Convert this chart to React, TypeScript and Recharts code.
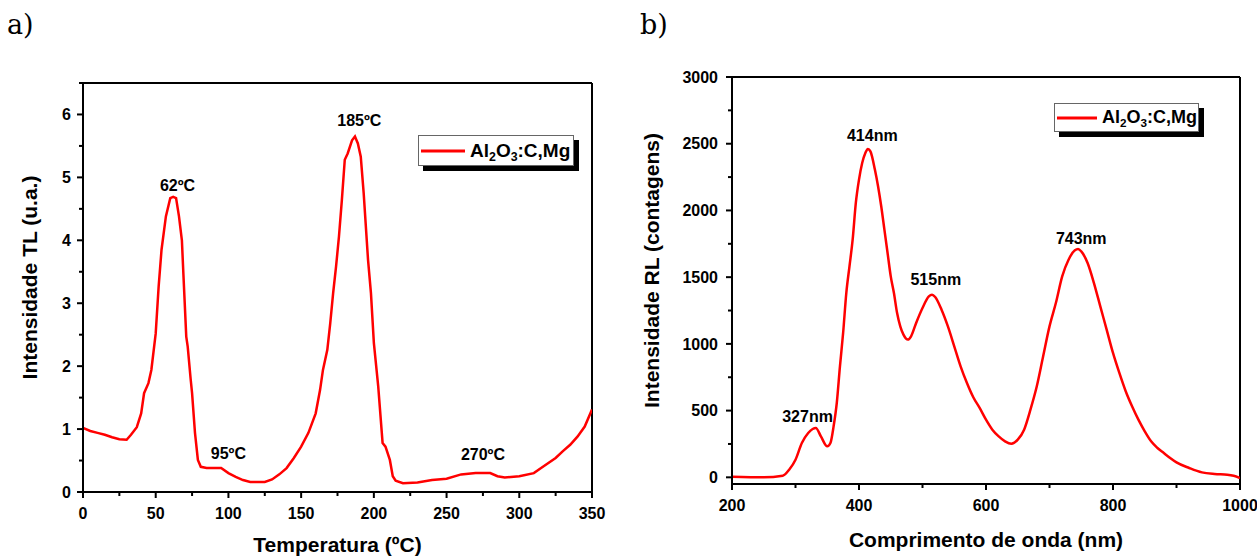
import { LineChart, Line, XAxis, YAxis, ReferenceLine, ReferenceDot } from "recharts"

const FONT = '"Liberation Sans", Arial, sans-serif'
const RED = "#ff0000"

// a) TL glow curve
const tlTemp = [
  0, 5, 10, 15, 20, 25, 30, 33, 37, 40, 42, 45, 47, 50, 52, 54, 57, 60, 62, 64, 66, 68, 69, 71, 72, 74, 75, 77, 79, 81,
  85, 95, 100, 105, 110, 115, 125, 130, 135, 140, 145, 150, 155, 160, 163, 165, 168, 170, 172, 174, 176, 178, 180,
  182, 185, 187, 189, 191, 193, 196, 198, 200, 203, 206, 208, 211, 213, 215, 220, 230, 240, 250, 260, 270, 280, 285,
  290, 300, 310, 315, 320, 325, 330, 335, 340, 345, 350,
]
const tlIntensity = [
  1.02, 0.97, 0.94, 0.91, 0.87, 0.84, 0.83, 0.91, 1.03, 1.25, 1.57, 1.73, 1.94, 2.52, 3.26, 3.85, 4.38, 4.67, 4.69,
  4.67, 4.38, 4.0, 3.48, 2.47, 2.31, 1.8, 1.57, 0.94, 0.51, 0.4, 0.38, 0.38, 0.3, 0.24, 0.19, 0.16, 0.16, 0.2, 0.28,
  0.38, 0.54, 0.72, 0.94, 1.25, 1.62, 1.94, 2.26, 2.68, 3.16, 3.58, 4.06, 4.64, 5.28, 5.38, 5.59, 5.65, 5.54, 5.33,
  4.75, 3.69, 3.16, 2.37, 1.68, 0.78, 0.72, 0.51, 0.25, 0.18, 0.14, 0.15, 0.19, 0.21, 0.28, 0.3, 0.3, 0.25, 0.23,
  0.25, 0.3, 0.38, 0.46, 0.54, 0.65, 0.75, 0.88, 1.04, 1.31,
]
const tlPeakLabels = ["62ºC", "185ºC", "95ºC", "270ºC"]
const tlPeakTemp = [65, 190, 100, 275]
const tlPeakLevel = [4.88, 5.91, 0.62, 0.6]
const tlXTicks = [0, 25, 50, 75, 100, 125, 150, 175, 200, 225, 250, 275, 300, 325, 350]
const tlXMajor = [0, 50, 100, 150, 200, 250, 300, 350]
const tlYTicks = [0, 0.5, 1, 1.5, 2, 2.5, 3, 3.5, 4, 4.5, 5, 5.5, 6, 6.5]
const tlYMajor = [0, 1, 2, 3, 4, 5, 6]

// b) RL spectrum
const wavelength = [
  200, 250, 280, 290, 300, 310, 320, 327, 332, 340, 350, 355, 360, 365, 370, 375, 380, 385, 390, 395, 400, 405, 410,
  414, 418, 425, 430, 435, 440, 445, 450, 455, 460, 465, 470, 477, 482, 490, 500, 510, 515, 520, 530, 540, 550, 560,
  570, 580, 590, 600, 610, 620, 630, 640, 650, 660, 670, 680, 690, 700, 710, 720, 730, 740, 745, 750, 760, 770, 780,
  790, 800, 810, 820, 830, 840, 850, 860, 870, 880, 890, 900, 920, 940, 960, 980, 990, 1000,
]
const rlCounts = [
  5, 0, 12, 57, 132, 257, 332, 362, 370, 307, 232, 257, 382, 557, 832, 1082, 1381, 1581, 1781, 2056, 2231, 2356, 2431,
  2461, 2443, 2306, 2181, 2031, 1856, 1681, 1506, 1381, 1231, 1131, 1069, 1032, 1057, 1157, 1269, 1356, 1369, 1351,
  1256, 1131, 982, 832, 707, 600, 520, 432, 357, 307, 270, 252, 282, 357, 507, 682, 907, 1131, 1306, 1506, 1631, 1701,
  1711, 1693, 1606, 1456, 1281, 1107, 932, 782, 645, 532, 432, 345, 270, 220, 182, 145, 112, 70, 37, 25, 20, 12, -5,
]
const rlPeakLabels = ["327nm", "414nm", "515nm", "743nm"]
const rlPeakWave = [319, 421, 521, 750]
const rlPeakLevel = [457, 2561, 1486, 1794]
const rlXTicks = [200, 300, 400, 500, 600, 700, 800, 900, 1000]
const rlXMajor = [200, 400, 600, 800, 1000]
const rlYTicks = [0, 250, 500, 750, 1000, 1250, 1500, 1750, 2000, 2250, 2500, 2750, 3000]
const rlYMajor = [0, 500, 1000, 1500, 2000, 2500, 3000]

const tlData = tlTemp.map((t, i) => ({ t, v: tlIntensity[i] }))
const rlData = wavelength.map((w, i) => ({ w, v: rlCounts[i] }))

const axisLine = { stroke: "#000", strokeWidth: 2 }

function xTick(major: number[]) {
  return (props: any) => {
    const { x, y, payload } = props
    const isMajor = major.includes(payload.value)
    return (
      <g>
        <line x1={x} x2={x} y1={y} y2={y + (isMajor ? 6 : 4)} stroke="#000" strokeWidth={2} />
        {isMajor && (
          <text x={x} y={y + 27} textAnchor="middle" fontFamily={FONT} fontWeight="bold" fontSize={16} fill="#000">
            {payload.value}
          </text>
        )}
      </g>
    )
  }
}

function yTick(major: number[], gap: number) {
  return (props: any) => {
    const { x, y, payload } = props
    const isMajor = major.includes(payload.value)
    return (
      <g>
        <line x1={x} x2={x - (isMajor ? 6 : 4)} y1={y} y2={y} stroke="#000" strokeWidth={2} />
        {isMajor && (
          <text x={x - gap} y={y} dy="0.36em" textAnchor="end" fontFamily={FONT} fontWeight="bold" fontSize={16} fill="#000">
            {payload.value}
          </text>
        )}
      </g>
    )
  }
}

function xTitle(text: string, dy: number) {
  return (props: any) => {
    const vb = props.viewBox
    return (
      <text x={vb.x + vb.width / 2} y={vb.y + dy} textAnchor="middle" fontFamily={FONT} fontWeight="bold" fontSize={21} fill="#000">
        {text}
      </text>
    )
  }
}

function yTitle(text: string, bx: number) {
  return (props: any) => {
    const vb = props.viewBox
    const cy = vb.y + vb.height / 2 - 10
    return (
      <text x={bx} y={cy} transform={`rotate(-90 ${bx} ${cy})`} textAnchor="middle" fontFamily={FONT} fontWeight="bold" fontSize={21} fill="#000">
        {text}
      </text>
    )
  }
}

function peakLabel(text: string) {
  return (p: any) => (
    <text x={p.cx} y={p.cy} dy="0.36em" textAnchor="middle" fontFamily={FONT} fontWeight="bold" fontSize={16} fill="#000">
      {text}
    </text>
  )
}

function LegendBox({ left, top, width, height, line, fontSize }: any) {
  return (
    <div
      style={{
        position: "absolute",
        left,
        top,
        width,
        height,
        boxSizing: "border-box",
        border: "1px solid #666",
        background: "#fff",
        boxShadow: "5px 5px 0 #000",
        display: "flex",
        alignItems: "center",
        fontFamily: FONT,
        fontWeight: "bold",
        fontSize,
        color: "#000",
        whiteSpace: "nowrap",
      }}
    >
      <svg width={line + 5} height={4} style={{ marginLeft: 2 }}>
        <line x1={0} x2={line} y1={2} y2={2} stroke={RED} strokeWidth={3} />
      </svg>
      <span>
        Al<sub style={{ fontSize: fontSize * 0.65, verticalAlign: "-4px", lineHeight: 0 }}>2</sub>O
        <sub style={{ fontSize: fontSize * 0.65, verticalAlign: "-4px", lineHeight: 0 }}>3</sub>:C,Mg
      </span>
    </div>
  )
}

const panelLabel = {
  position: "absolute" as const,
  fontFamily: '"DejaVu Serif", serif',
  fontSize: 27,
  lineHeight: "30px",
  color: "#000",
}

export default function App() {
  return (
    <div style={{ position: "absolute", left: 0, top: 0, width: 1257, height: 557, background: "#fff", overflow: "hidden" }}>
      <div style={{ ...panelLabel, left: 7, top: 10 }}>a)</div>
      <div style={{ ...panelLabel, left: 640, top: 10 }}>b)</div>

      <div style={{ position: "absolute", left: 0, top: 0 }}>
        <LineChart width={620} height={557} data={tlData} margin={{ top: 83, right: 28, bottom: 15, left: 0 }}>
          <XAxis
            dataKey="t"
            type="number"
            domain={[0, 350]}
            ticks={tlXTicks}
            interval={0}
            allowDataOverflow
            height={50}
            axisLine={axisLine}
            tickLine={false}
            tickSize={0}
            tickMargin={0}
            tick={xTick(tlXMajor)}
            label={xTitle("Temperatura (ºC)", 60)}
          />
          <YAxis
            type="number"
            domain={[0, 6.5]}
            ticks={tlYTicks}
            interval={0}
            allowDataOverflow
            width={83}
            axisLine={axisLine}
            tickLine={false}
            tickSize={0}
            tickMargin={0}
            tick={yTick(tlYMajor, 12)}
            label={yTitle("Intensidade TL (u.a.)", 37)}
          />
          <ReferenceLine y={6.5} stroke="#000" strokeWidth={2} />
          <ReferenceLine x={350} stroke="#000" strokeWidth={2} />
          <Line type="linear" dataKey="v" stroke={RED} strokeWidth={2.5} dot={false} isAnimationActive={false} />
          {tlPeakLabels.map((lab, i) => (
            <ReferenceDot key={lab} x={tlPeakTemp[i]} y={tlPeakLevel[i]} r={0} shape={peakLabel(lab)} />
          ))}
        </LineChart>
      </div>
      <LegendBox left={418} top={135} width={156} height={31} line={44} fontSize={19} />

      <div style={{ position: "absolute", left: 620, top: 0 }}>
        <LineChart width={637} height={557} data={rlData} margin={{ top: 77, right: 17, bottom: 23, left: 0 }}>
          <XAxis
            dataKey="w"
            type="number"
            domain={[200, 1000]}
            ticks={rlXTicks}
            interval={0}
            allowDataOverflow
            height={50}
            axisLine={axisLine}
            tickLine={false}
            tickSize={0}
            tickMargin={0}
            tick={xTick(rlXMajor)}
            label={xTitle("Comprimento de onda (nm)", 63)}
          />
          <YAxis
            type="number"
            domain={[-50, 3000]}
            ticks={rlYTicks}
            interval={0}
            allowDataOverflow
            width={112}
            axisLine={axisLine}
            tickLine={false}
            tickSize={0}
            tickMargin={0}
            tick={yTick(rlYMajor, 14)}
            label={yTitle("Intensidade RL (contagens)", 39)}
          />
          <ReferenceLine y={3000} stroke="#000" strokeWidth={2} />
          <ReferenceLine x={1000} stroke="#000" strokeWidth={2} />
          <Line type="monotone" dataKey="v" stroke={RED} strokeWidth={2.5} dot={false} isAnimationActive={false} />
          {rlPeakLabels.map((lab, i) => (
            <ReferenceDot key={lab} x={rlPeakWave[i]} y={rlPeakLevel[i]} r={0} shape={peakLabel(lab)} />
          ))}
        </LineChart>
      </div>
      <LegendBox left={1054} top={103} width={145} height={29} line={40} fontSize={18} />
    </div>
  )
}
